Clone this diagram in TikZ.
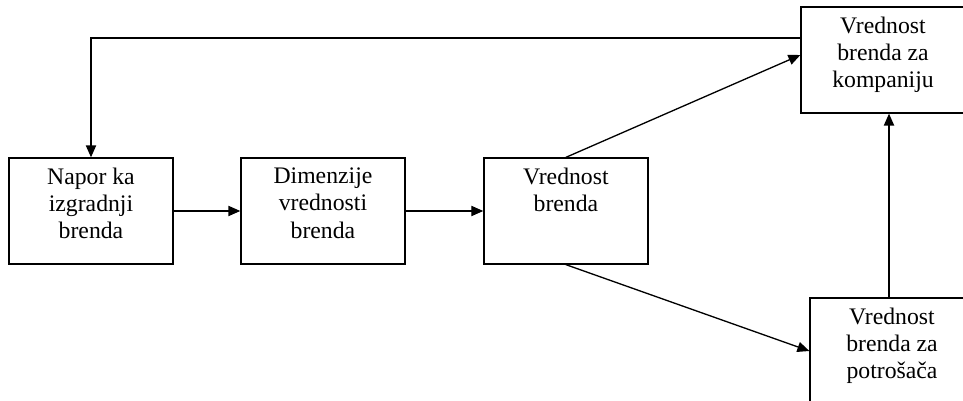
\documentclass[tikz,border=0pt]{standalone}
\usepackage{fontspec}
\setmainfont{Liberation Serif}
\usetikzlibrary{arrows.meta,positioning}

\newcommand{\okvir}[1]{\parbox[c][1.72cm][t]{3cm}{\centering\fontsize{13.5}{15.5}\selectfont #1}}

\begin{document}
\begin{tikzpicture}[x=0.02cm,y=-0.02cm,on grid,
   >={Triangle[length=6.8pt,width=5.8pt]},line width=0.75pt,
   blok/.style={draw,inner xsep=0.14cm,inner ysep=0.2cm,minimum width=3.28cm,minimum height=2.12cm}]
   \useasboundingbox (0,0) rectangle (963,401);
   \node[blok] (napor) at (91,211) {\okvir{Napor ka\\izgradnji\\brenda}};
   \node[blok] (dimenzije) [right=4.64cm of napor] {\okvir{Dimenzije\\vrednosti\\brenda}};
   \node[blok] (vrednost) [right=4.86cm of dimenzije] {\okvir{Vrednost\\brenda}};
   \node[blok] (kompanija) at (883,60) {\okvir{Vrednost\\brenda za\\kompaniju}};
   \node[blok] (potrosac) at (892,351) {\okvir{Vrednost\\brenda za\\potrošača}};
   % strelice
   \draw[->] (napor) -- (dimenzije);
   \draw[->] (dimenzije) -- (vrednost);
   \draw[->] (vrednost.north) -- ([yshift=0.1cm]kompanija.west);
   \draw[->] (vrednost.south) -- (potrosac.west);
   \draw[->] ([xshift=-0.06cm]potrosac.north) -- ([xshift=-0.06cm]potrosac.north |- kompanija.south);
   \draw[->] ([yshift=0.44cm]kompanija.west) -| (napor.north);
\end{tikzpicture}
\end{document}
